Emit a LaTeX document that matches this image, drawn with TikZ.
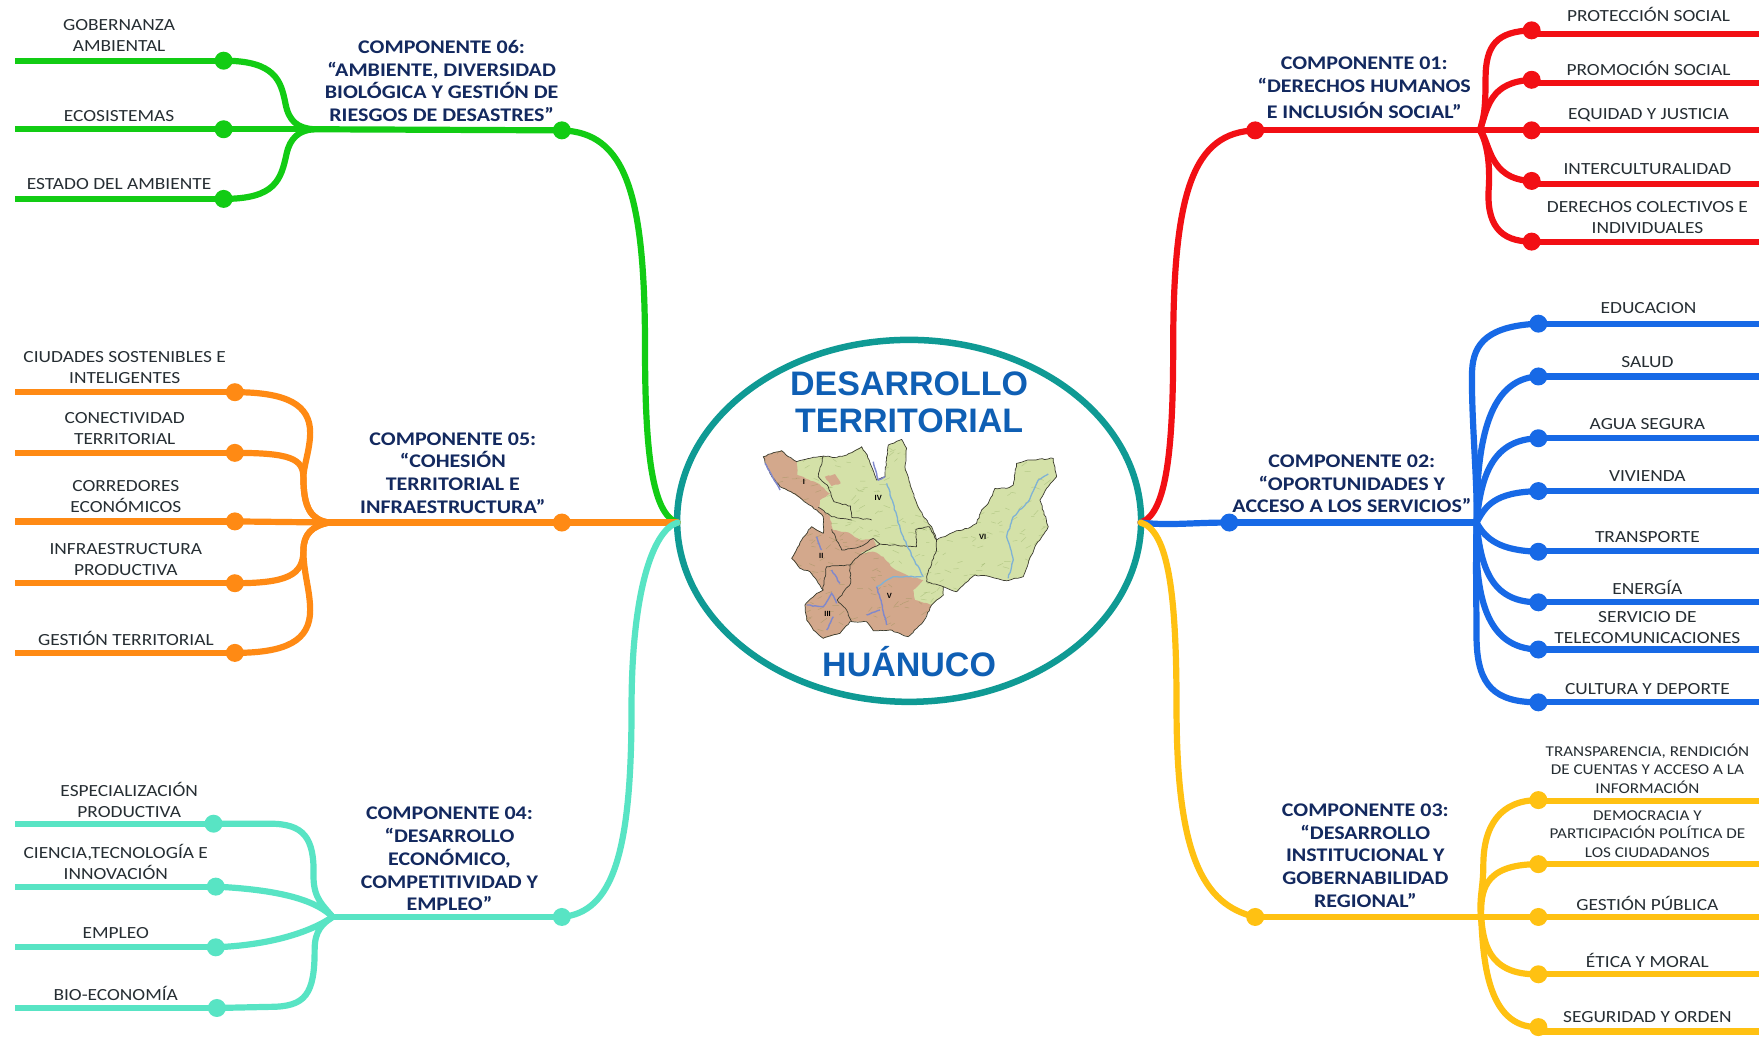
\documentclass[tikz,border=0pt]{standalone}
\usepackage{fontspec}
\setmainfont[FakeStretch=1.14]{Carlito}
\newfontfamily\arialf{Liberation Sans}
\usetikzlibrary{calc,shapes.geometric,decorations.pathmorphing}
\definecolor{cred}{HTML}{F20F14}
\definecolor{cblue}{HTML}{1769E6}
\definecolor{cyel}{HTML}{FFC112}
\definecolor{cgreen}{HTML}{12CC14}
\definecolor{corg}{HTML}{FF8A14}
\definecolor{cteal}{HTML}{58E4C4}
\definecolor{ring}{HTML}{0F9A94}
\definecolor{navy}{HTML}{13295F}
\definecolor{lab}{HTML}{262E33}
\definecolor{title}{HTML}{0F5FB4}
\definecolor{mapg}{HTML}{D4E1A8}
\definecolor{mapb}{HTML}{D3A88C}
\definecolor{mapl}{HTML}{3C3C30}
\definecolor{rivp}{HTML}{8088CC}
\definecolor{rivb}{HTML}{7FB2D4}
\newcommand{\lf}[4]{% colour, path up to the dot, dot, end
  \draw[wire=#1] #2 (#3.center);
  \draw[wire=#1,line cap=butt] (#3.center |- #4) -- (#4);
}
\newcommand{\maplab}[3]{\node[maptext] (#1) at (#2) {#3};}
\newcommand{\mapoutline}{(310,410) -- (340,398) -- (365,392) -- (385,410) -- (410,425) -- (450,415) -- (490,408) -- (530,412) -- (560,405) -- (605,380) -- (622,405) -- (635,440) -- (650,480) -- (675,470) -- (680,420) -- (685,375) -- (725,358) -- (740,385) -- (735,440) -- (750,490) -- (762,530) -- (790,590) -- (815,620) -- (830,660) -- (890,632) -- (925,625) -- (950,610) -- (965,570) -- (985,550) -- (1005,505) -- (1040,505) -- (1060,495) -- (1070,430) -- (1110,420) -- (1180,415) -- (1190,470) -- (1160,505) -- (1140,540) -- (1165,620) -- (1140,660) -- (1125,680) -- (1105,730) -- (1090,770) -- (1040,782) -- (990,770) -- (945,765) -- (915,790) -- (890,815) -- (850,800) -- (850,825) -- (815,855) -- (790,905) -- (745,950) -- (690,930) -- (640,932) -- (620,905) -- (570,905) -- (540,940) -- (490,955) -- (460,930) -- (440,900) -- (435,855) -- (470,820) -- (490,810) -- (470,780) -- (450,755) -- (420,745) -- (395,715) -- (425,660) -- (455,620) -- (490,640) -- (490,590) -- (470,570) -- (400,520) -- (360,500) -- (330,460) -- cycle}
\tikzset{
  wire/.style={draw=#1,line width=6.2pt,line cap=round,line join=round},
  dot/.style={circle,fill=#1,minimum size=18pt,inner sep=0pt},
  leaf/.style={font=\fontsize{17}{21}\selectfont,text=lab,align=center,inner sep=0pt},
  leafs/.style={font=\fontsize{15}{18.6}\selectfont,text=lab,align=center,inner sep=0pt},
  head/.style={font=\fontsize{19.3}{22.8}\selectfont\bfseries,text=navy,align=center,inner sep=0pt},
  big/.style={font=\fontsize{34}{37}\selectfont\arialf\bfseries,text=title,align=center,inner sep=0pt},
  maptext/.style={font=\fontsize{7.5}{8}\selectfont\arialf\bfseries,text=black,inner sep=0pt},
  rivera/.style={draw=rivp,line width=1.4pt,decorate,decoration={random steps,segment length=3pt,amplitude=0.5pt}},
  riverb/.style={draw=rivb,line width=1.3pt,decorate,decoration={random steps,segment length=3pt,amplitude=0.6pt}},
  bound/.style={draw=mapl,line width=0.7pt,line join=round,decorate,decoration={random steps,segment length=3pt,amplitude=0.6pt}},
  rough/.style={decorate,decoration={random steps,segment length=3pt,amplitude=0.6pt}},
}
\begin{document}
\begin{tikzpicture}[x=1.12372pt,y=-1.12372pt]
\useasboundingbox (0,0) rectangle (1568,922);
\fill[white] (0,0) rectangle (1568,922);
% centre
\node[ellipse,draw=ring,fill=white,line width=6.5pt,minimum width=464pt,minimum height=362pt,inner sep=0pt] (core) at (809,463.5) {};
\node[big] (t1) at (809,358) {DESARROLLO\\TERRITORIAL};
\node[big] (t2) at (809,589) {HUÁNUCO};
% map
\begin{scope}[shift={(587.3,284.8)},x=0.3333pt,y=-0.3333pt]
\pgfmathsetseed{7}
\begin{scope}
\clip \mapoutline;
\fill[mapg] (250,300) rectangle (1250,1000);
% brown areas
\fill[mapb,rough] (310,380) -- (365,380) -- (410,425) -- (412,465) -- (470,488) -- (510,520) -- (480,540) -- (478,562) -- (510,590) -- (520,630) -- (570,640) -- (600,660) -- (640,655) -- (650,680) -- (600,700) -- (640,695) -- (670,710) -- (700,745) -- (750,770) -- (790,780) -- (760,810) -- (765,840) -- (815,855) -- (790,1000) -- (380,1000) -- (380,640) -- (300,500) -- cycle;
\fill[mapb,rough] (495,470) -- (525,462) -- (542,490) -- (515,498) -- cycle;
% relief
\foreach \i in {1,...,420}{
  \pgfmathsetmacro{\px}{300+rnd*900}
  \pgfmathsetmacro{\py}{360+rnd*600}
  \pgfmathsetmacro{\pa}{-15+rnd*24}
  \pgfmathsetmacro{\pb}{8+rnd*12}
  \draw[black!55!green!60!brown,opacity=.22,line width=.5pt] (\px,\py) -- ++(\pb,\pa);
}
\end{scope}
\path[bound] \mapoutline;
% region boundaries
\path[bound] (490,408) -- (475,470) -- (505,500) -- (522,545) -- (572,558) -- (575,592) -- (635,600);
\path[bound] (475,562) -- (515,590) -- (575,600);
\path[bound] (515,628) -- (545,690) -- (600,680) -- (640,655) -- (660,672) -- (770,680) -- (768,628) -- (808,620) -- (830,660) -- (830,690) -- (800,770) -- (800,785) -- (850,800);
\path[bound] (660,672) -- (600,705) -- (570,735) -- (500,740) -- (488,810);
\path[bound] (570,735) -- (572,790) -- (532,840) -- (560,870) -- (575,905);
% rivers
\path[rivera] (315,430) -- (335,465) -- (360,510);
\path[rivera] (640,425) -- (655,480) -- (675,470);
\path[riverb] (680,490) -- (700,550) -- (715,610) -- (730,650) -- (760,715) -- (790,770);
\path[riverb] (1045,775) -- (1060,720) -- (1040,650) -- (1060,590) -- (1105,545) -- (1135,480) -- (1165,462);
\path[rivera] (470,650) -- (485,690);
\path[rivera] (515,750) -- (540,790);
\path[rivera] (440,855) -- (490,860) -- (515,820) -- (530,850);
\path[rivera] (500,930) -- (520,890);
\path[rivera] (650,800) -- (665,850) -- (680,915);
\path[rivera] (620,885) -- (660,870);
\path[riverb] (650,800) -- (700,770) -- (785,770);
\maplab{mI}{432,486}{I}
\maplab{mII}{484,707}{II}
\maplab{mIII}{503,882}{III}
\maplab{mIV}{655,533}{IV}
\maplab{mV}{688,828}{V}
\maplab{mVI}{968,652}{VI}
\end{scope}
% anchors
\coordinate (rootR) at (1015,465);
\coordinate (rootL) at (603,465);
\coordinate (hubA) at (1317,116);
\coordinate (hubB) at (1314,465);
\coordinate (hubC) at (1318,816);
\coordinate (hubF) at (279,115);
\coordinate (hubE) at (293,465);
\coordinate (hubD) at (296,816);
% dots
\foreach \n/\x/\y in {A0/1117/116,a1/1363/27,a2/1363/71,a3/1363/116,a4/1363/161,a5/1363/215,
 B0/1094/465,b1/1369/288,b2/1369/335,b3/1369/390,b4/1369/437,b5/1369/491,b6/1369/536,b7/1369/578,b8/1369/625,
 C0/1117/816,c1/1369/712,c2/1369/769,c3/1369/816,c4/1369/867,c5/1369/914,
 F0/500/116,f1/199/54,f2/199/115,f3/199/177,
 E0/500/465,e1/209/349,e2/209/403,e3/209/464,e4/209/519,e5/209/581,
 D0/500/816,d1/190/733,d2/192/789,d3/192/843,d4/193/897}
 {\coordinate (\n p) at (\x,\y);}
% ends
\foreach \n/\x/\y in {a1/1565/30,a2/1565/74,a3/1565/116,a4/1565/164,a5/1565/215,
 b1/1565/288,b2/1565/335,b3/1565/390,b4/1565/437,b5/1565/490,b6/1565/536,b7/1565/578,b8/1565/625,
 c1/1565/713,c2/1565/769,c3/1565/816,c4/1565/867,c5/1565/918,
 f1/13/54,f2/13/115,f3/13/177,
 e1/13/349,e2/13/403,e3/13/464,e4/13/519,e5/13/581,
 d1/13/733,d2/13/789,d3/13/843,d4/13/897}
 {\coordinate (\n e) at (\x,\y);}
% roots
\draw[wire=cred] (rootR) .. controls (1038,458) and (1044,400) .. (1044,310) .. controls (1044,170) and (1062,118) .. (A0p);
\draw[wire=cblue] (rootR) .. controls (1040,468) and (1060,465) .. (B0p);
\draw[wire=cyel] (rootR) .. controls (1040,472) and (1047,530) .. (1047,630) .. controls (1047,760) and (1070,805) .. (C0p);
\draw[wire=cgreen] (rootL) .. controls (580,458) and (574,400) .. (574,310) .. controls (574,170) and (556,118) .. (F0p);
\draw[wire=corg] (rootL) -- (E0p);
\draw[wire=cteal] (rootL) .. controls (580,472) and (562,530) .. (562,630) .. controls (562,760) and (545,812) .. (D0p);
% main stems
\draw[wire=cred] (A0p) -- (hubA);
\draw[wire=cblue] (B0p) -- (hubB);
\draw[wire=cyel] (C0p) -- (hubC);
\draw[wire=cgreen] (F0p) -- (hubF);
\draw[wire=corg] (E0p) -- (hubE);
\draw[wire=cteal] (D0p) -- (hubD);
% dots as nodes
\foreach \n in {a1,a2,a3,a4,a5}{\node[dot=cred] (\n) at (\n p) {};}
\foreach \n in {b1,b2,b3,b4,b5,b6,b7,b8}{\node[dot=cblue] (\n) at (\n p) {};}
\foreach \n in {c1,c2,c3,c4,c5}{\node[dot=cyel] (\n) at (\n p) {};}
\foreach \n in {f1,f2,f3}{\node[dot=cgreen] (\n) at (\n p) {};}
\foreach \n in {e1,e2,e3,e4,e5}{\node[dot=corg] (\n) at (\n p) {};}
\foreach \n in {d1,d2,d3,d4}{\node[dot=cteal] (\n) at (\n p) {};}
\node[dot=cred] (A0) at (A0p) {};
\node[dot=cblue] (B0) at (B0p) {};
\node[dot=cyel] (C0) at (C0p) {};
\node[dot=cgreen] (F0) at (F0p) {};
\node[dot=corg] (E0) at (E0p) {};
\node[dot=cteal] (D0) at (D0p) {};
% red leaves
\lf{cred}{(hubA) .. controls (1320,105) and (1322,100) .. (1322,70) .. controls (1322,40) and (1332,28) ..}{a1}{a1e}
\lf{cred}{(hubA) .. controls (1324,95) and (1326,73) ..}{a2}{a2e}
\lf{cred}{(hubA) --}{a3}{a3e}
\lf{cred}{(hubA) .. controls (1326,125) and (1324,160) ..}{a4}{a4e}
\lf{cred}{(hubA) .. controls (1322,125) and (1326,140) .. (1325,165) .. controls (1322,200) and (1335,215) ..}{a5}{a5e}
% blue leaves
\lf{cblue}{(hubB) .. controls (1315,430) and (1309,370) .. (1310,330) .. controls (1311,305) and (1325,290) ..}{b1}{b1e}
\lf{cblue}{(hubB) .. controls (1314,400) and (1322,337) ..}{b2}{b2e}
\lf{cblue}{(hubB) .. controls (1318,420) and (1330,391) ..}{b3}{b3e}
\lf{cblue}{(hubB) .. controls (1322,450) and (1330,438) ..}{b4}{b4e}
\lf{cblue}{(hubB) .. controls (1322,480) and (1335,490) ..}{b5}{b5e}
\lf{cblue}{(hubB) .. controls (1318,510) and (1330,536) ..}{b6}{b6e}
\lf{cblue}{(hubB) .. controls (1312,530) and (1322,577) ..}{b7}{b7e}
\lf{cblue}{(hubB) .. controls (1313,510) and (1314,540) .. (1314,570) .. controls (1315,610) and (1330,625) ..}{b8}{b8e}
% yellow leaves
\lf{cyel}{(hubC) .. controls (1316,800) and (1320,790) .. (1320,770) .. controls (1320,735) and (1335,712) ..}{c1}{c1e}
\lf{cyel}{(hubC) .. controls (1318,795) and (1318,769) ..}{c2}{c2e}
\lf{cyel}{(hubC) --}{c3}{c3e}
\lf{cyel}{(hubC) .. controls (1320,835) and (1322,868) ..}{c4}{c4e}
\lf{cyel}{(hubC) .. controls (1320,850) and (1322,915) ..}{c5}{c5e}
% green leaves
\lf{cgreen}{(hubF) .. controls (265,114) and (257,108) .. (254,92) .. controls (250,72) and (245,54) ..}{f1}{f1e}
\lf{cgreen}{(hubF) --}{f2}{f2e}
\lf{cgreen}{(hubF) .. controls (266,116) and (258,123) .. (255,137) .. controls (250,160) and (245,177) ..}{f3}{f3e}
% orange leaves
\lf{corg}{(hubE) .. controls (277,463) and (270,452) .. (270,425) .. controls (270,415) and (276,400) .. (276,385) .. controls (276,360) and (255,349) ..}{e1}{e1e}
\lf{corg}{(hubE) .. controls (277,463) and (270,452) .. (270,425) .. controls (270,408) and (258,403) ..}{e2}{e2e}
\lf{corg}{(hubE) --}{e3}{e3e}
\lf{corg}{(hubE) .. controls (278,468) and (270,475) .. (270,490) .. controls (270,512) and (255,519) ..}{e4}{e4e}
\lf{corg}{(hubE) .. controls (278,468) and (270,475) .. (270,490) .. controls (270,510) and (276,525) .. (276,543) .. controls (276,570) and (255,581) ..}{e5}{e5e}
% teal leaves
\lf{cteal}{(hubD) .. controls (288,806) and (279,800) .. (279,780) .. controls (280,745) and (270,733) .. (240,733) --}{d1}{d1e}
\lf{cteal}{(hubD) .. controls (283,803) and (255,792) ..}{d2}{d2e}
\lf{cteal}{(hubD) .. controls (275,830) and (240,841) ..}{d3}{d3e}
\lf{cteal}{(hubD) .. controls (287,822) and (280,828) .. (280,845) .. controls (280,885) and (272,896) .. (240,896) --}{d4}{d4e}
% headings
\node[head] (h6) at (393,72) {COMPONENTE 06:\\“AMBIENTE, DIVERSIDAD\\BIOLÓGICA Y GESTIÓN DE\\RIESGOS DE DESASTRES”};
\node[head] (h5) at (403,421) {COMPONENTE 05:\\“COHESIÓN\\TERRITORIAL E\\INFRAESTRUCTURA”};
\node[head] (h4) at (400,764.5) {COMPONENTE 04:\\“DESARROLLO\\ECONÓMICO,\\COMPETITIVIDAD Y\\EMPLEO”};
\node[head] (h1) at (1214,78) {COMPONENTE 01:\\“DERECHOS HUMANOS\\[3pt]E INCLUSIÓN SOCIAL”};
\node[head] (h2) at (1203,430.5) {COMPONENTE 02:\\“OPORTUNIDADES Y\\ACCESO A LOS SERVICIOS”};
\node[head] (h3) at (1215,761.5) {COMPONENTE 03:\\“DESARROLLO\\INSTITUCIONAL Y\\GOBERNABILIDAD\\REGIONAL”};
% leaf labels right
\node[leaf] (l1) at (1467,13) {PROTECCIÓN SOCIAL};
\node[leaf] (l2) at (1467,61) {PROMOCIÓN SOCIAL};
\node[leaf] (l3) at (1467,102) {EQUIDAD Y JUSTICIA};
\node[leaf] (l4) at (1466,150) {INTERCULTURALIDAD};
\node[leaf] (l5) at (1466,194) {DERECHOS COLECTIVOS E\\INDIVIDUALES};
\node[leaf] (l6) at (1467,274) {EDUCACION};
\node[leaf] (l7) at (1466,322) {SALUD};
\node[leaf] (l8) at (1466,377) {AGUA SEGURA};
\node[leaf] (l9) at (1466,424) {VIVIENDA};
\node[leaf] (l10) at (1466,478) {TRANSPORTE};
\node[leaf] (l11) at (1466,523) {ENERGÍA};
\node[leaf] (l12) at (1466,558) {SERVICIO DE\\TELECOMUNICACIONES};
\node[leaf] (l13) at (1466,613) {CULTURA Y DEPORTE};
\node[leafs] (l14) at (1466,684) {TRANSPARENCIA, RENDICIÓN\\DE CUENTAS Y ACCESO A LA\\INFORMACIÓN};
\node[leafs] (l15) at (1466,742) {DEMOCRACIA Y\\PARTICIPACIÓN POLÍTICA DE\\LOS CIUDADANOS};
\node[leaf] (l16) at (1466,804) {GESTIÓN PÚBLICA};
\node[leaf] (l17) at (1466,855) {ÉTICA Y MORAL};
\node[leaf] (l18) at (1466,905) {SEGURIDAD Y ORDEN};
% leaf labels left
\node[leaf] (r1) at (106,32) {GOBERNANZA\\AMBIENTAL};
\node[leaf] (r2) at (106,103) {ECOSISTEMAS};
\node[leaf] (r3) at (106,164) {ESTADO DEL AMBIENTE};
\node[leaf] (r4) at (111,327) {CIUDADES SOSTENIBLES E\\INTELIGENTES};
\node[leaf] (r5) at (111,381) {CONECTIVIDAD\\TERRITORIAL};
\node[leaf] (r6) at (112,442) {CORREDORES\\ECONÓMICOS};
\node[leaf] (r7) at (112,498) {INFRAESTRUCTURA\\PRODUCTIVA};
\node[leaf] (r8) at (112,568) {GESTIÓN TERRITORIAL};
\node[leaf] (r9) at (115,712) {ESPECIALIZACIÓN\\PRODUCTIVA};
\node[leaf] (r10) at (103,767) {CIENCIA,TECNOLOGÍA E\\INNOVACIÓN};
\node[leaf] (r11) at (103,830) {EMPLEO};
\node[leaf] (r12) at (103,884) {BIO-ECONOMÍA};
\end{tikzpicture}
\end{document}
